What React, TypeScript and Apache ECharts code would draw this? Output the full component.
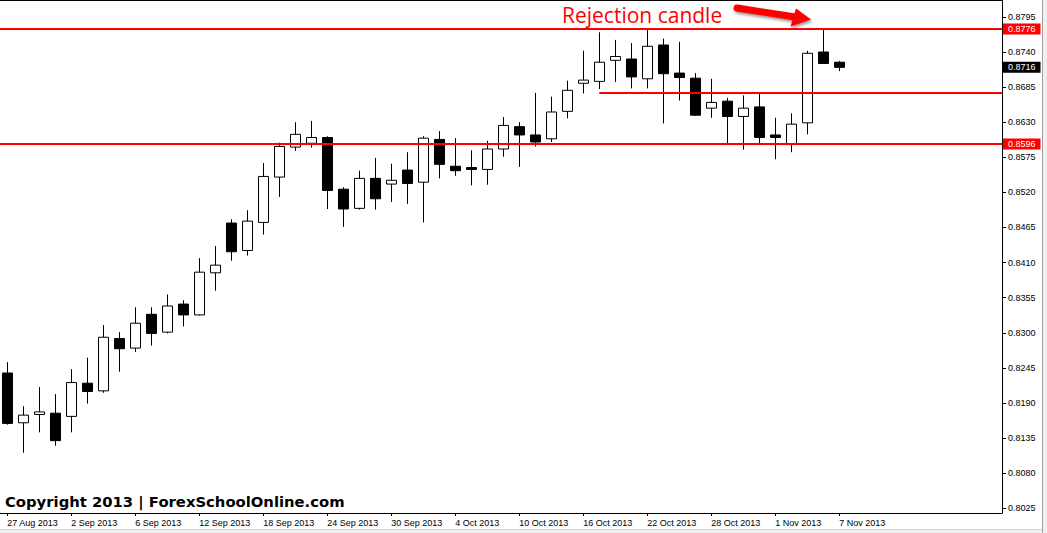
import React, { useEffect, useRef } from "react";
import * as echarts from "echarts";

// Daily candles (weekdays) 27 Aug 2013 – 7 Nov 2013
const dates = [
  "27 Aug 2013", "28 Aug 2013", "29 Aug 2013", "30 Aug 2013",
  "2 Sep 2013", "3 Sep 2013", "4 Sep 2013", "5 Sep 2013",
  "6 Sep 2013", "9 Sep 2013", "10 Sep 2013", "11 Sep 2013",
  "12 Sep 2013", "13 Sep 2013", "16 Sep 2013", "17 Sep 2013",
  "18 Sep 2013", "19 Sep 2013", "20 Sep 2013", "23 Sep 2013",
  "24 Sep 2013", "25 Sep 2013", "26 Sep 2013", "27 Sep 2013",
  "30 Sep 2013", "1 Oct 2013", "2 Oct 2013", "3 Oct 2013",
  "4 Oct 2013", "7 Oct 2013", "8 Oct 2013", "9 Oct 2013",
  "10 Oct 2013", "11 Oct 2013", "14 Oct 2013", "15 Oct 2013",
  "16 Oct 2013", "17 Oct 2013", "18 Oct 2013", "21 Oct 2013",
  "22 Oct 2013", "23 Oct 2013", "24 Oct 2013", "25 Oct 2013",
  "28 Oct 2013", "29 Oct 2013", "30 Oct 2013", "31 Oct 2013",
  "1 Nov 2013", "4 Nov 2013", "5 Nov 2013", "6 Nov 2013",
  "7 Nov 2013",
];

const opens = [
  0.8237, 0.8159, 0.8172, 0.8174, 0.8169, 0.8221, 0.8209, 0.8291,
  0.8276, 0.8329, 0.8301, 0.8345, 0.8328, 0.8394, 0.8472, 0.8429,
  0.8473, 0.8544, 0.8591, 0.8597, 0.8606, 0.8525, 0.8495, 0.8542,
  0.8533, 0.8555, 0.8536, 0.8603, 0.8561, 0.8559, 0.8556, 0.8588,
  0.8623, 0.8610, 0.8604, 0.8647, 0.8691, 0.8694, 0.8727, 0.8729,
  0.8698, 0.8751, 0.8707, 0.8699, 0.8652, 0.8663, 0.8639, 0.8654,
  0.8610, 0.8595, 0.8629, 0.8740, 0.8724,
];
const closes = [
  0.8158, 0.8171, 0.8176, 0.8131, 0.8222, 0.8208, 0.8293, 0.8275,
  0.8315, 0.8299, 0.8342, 0.8328, 0.8395, 0.8406, 0.8427, 0.8475,
  0.8545, 0.8592, 0.8611, 0.8606, 0.8523, 0.8494, 0.8542, 0.8510,
  0.8539, 0.8534, 0.8605, 0.8564, 0.8554, 0.8556, 0.8588, 0.8625,
  0.8610, 0.8599, 0.8646, 0.8680, 0.8696, 0.8724, 0.8733, 0.8701,
  0.8749, 0.8706, 0.8700, 0.8641, 0.8661, 0.8639, 0.8652, 0.8606,
  0.8606, 0.8627, 0.8738, 0.8722, 0.8716,
];
const lows = [
  0.8156, 0.8112, 0.8144, 0.8123, 0.8144, 0.8189, 0.8206, 0.8239,
  0.8270, 0.8280, 0.8299, 0.8310, 0.8327, 0.8366, 0.8413, 0.8421,
  0.8454, 0.8513, 0.8585, 0.8590, 0.8494, 0.8466, 0.8493, 0.8493,
  0.8505, 0.8502, 0.8473, 0.8542, 0.8546, 0.8531, 0.8532, 0.8576,
  0.8560, 0.8592, 0.8599, 0.8636, 0.8675, 0.8682, 0.8693, 0.8683,
  0.8683, 0.8628, 0.8664, 0.8640, 0.8637, 0.8595, 0.8587, 0.8595,
  0.8572, 0.8583, 0.8611, 0.8722, 0.8710,
];
const highs = [
  0.8254, 0.8185, 0.8215, 0.8204, 0.8243, 0.8261, 0.8312, 0.8301,
  0.8340, 0.8340, 0.8360, 0.8351, 0.8417, 0.8436, 0.8478, 0.8492,
  0.8566, 0.8598, 0.8630, 0.8632, 0.8608, 0.8528, 0.8554, 0.8574,
  0.8565, 0.8583, 0.8608, 0.8616, 0.8605, 0.8586, 0.8601, 0.8638,
  0.8630, 0.8676, 0.8670, 0.8695, 0.8742, 0.8771, 0.8759, 0.8754,
  0.8775, 0.8761, 0.8756, 0.8707, 0.8698, 0.8668, 0.8672, 0.8675,
  0.8637, 0.8644, 0.8742, 0.8776, 0.8726,
];

const dateTickIndex = [0, 4, 8, 12, 16, 20, 24, 28, 32, 36, 40, 44, 48, 52];
const priceTicks = [
  0.8025, 0.808, 0.8135, 0.819, 0.8245, 0.83, 0.8355, 0.841, 0.8465,
  0.852, 0.8575, 0.863, 0.8685, 0.874, 0.8795,
];

const resistanceLevel = 0.8776;
const supportLevel = 0.8596;
const midLevel = 0.8676;
const midLevelStartIndex = 37;
const currentPrice = 0.8716;

const annotationText = "Rejection candle";
const copyrightText = "Copyright 2013 | ForexSchoolOnline.com";

export default function App() {
  const ref = useRef<HTMLDivElement>(null);

  useEffect(() => {
    if (!ref.current) return;
    const chart = echarts.init(ref.current, null, { renderer: "svg" });

    const candleData = dates.map((_, i) => [i, opens[i], closes[i], lows[i], highs[i]]);
    const xMin = -0.456;
    const xMax = 62.17;
    const yMin = 0.80176;
    const yMax = 0.88215;

    const axisFont = "Liberation Sans";
    const boxLabel = (bg: string) => ({
      show: true,
      position: "end",
      distance: 1,
      formatter: (p: any) => Number(p.value).toFixed(4),
      color: "#ffffff",
      backgroundColor: bg,
      padding: [1, 5, 1, 5],
      fontSize: 9,
      lineHeight: 9,
      fontFamily: axisFont,
    });

    chart.setOption({
      animation: false,
      backgroundColor: "#ffffff",
      grid: { left: 0, top: 0, width: 1002, height: 513, containLabel: false },
      xAxis: [
        {
          type: "value",
          min: xMin,
          max: xMax,
          position: "bottom",
          axisLine: { show: true, onZero: false, lineStyle: { color: "#000", width: 1 } },
          axisTick: {
            show: true,
            customValues: dateTickIndex,
            length: 3,
            lineStyle: { color: "#000", width: 1 },
          },
          axisLabel: {
            show: true,
            customValues: dateTickIndex,
            formatter: (v: number) => dates[Math.round(v)] ?? "",
            align: "left",
            margin: 5,
            fontSize: 9,
            fontFamily: axisFont,
            color: "#000",
          },
          splitLine: { show: false },
        },
        {
          type: "value",
          min: xMin,
          max: xMax,
          position: "top",
          axisLine: { show: true, onZero: false, lineStyle: { color: "#000", width: 1 } },
          axisTick: { show: false },
          axisLabel: { show: false },
          splitLine: { show: false },
        },
      ],
      yAxis: {
        type: "value",
        position: "right",
        min: yMin,
        max: yMax,
        axisLine: { show: true, onZero: false, lineStyle: { color: "#000", width: 1 } },
        axisTick: {
          show: true,
          customValues: priceTicks,
          length: 4,
          lineStyle: { color: "#000", width: 1 },
        },
        axisLabel: {
          show: true,
          customValues: priceTicks,
          formatter: (v: number) => v.toFixed(4),
          margin: 6,
          fontSize: 9,
          fontFamily: axisFont,
          color: "#000",
        },
        splitLine: { show: false },
      },
      series: [
        {
          type: "candlestick",
          xAxisIndex: 0,
          yAxisIndex: 0,
          data: candleData,
          encode: { x: 0, y: [1, 2, 3, 4] },
          barWidth: 10,
          itemStyle: {
            color: "#ffffff",
            color0: "#000000",
            borderColor: "#000000",
            borderColor0: "#000000",
            borderWidth: 1,
          },
          markLine: {
            silent: true,
            symbol: ["none", "none"],
            precision: 4,
            animation: false,
            data: [
              {
                yAxis: resistanceLevel,
                lineStyle: { color: "#ff0000", width: 2, type: "solid" },
                label: boxLabel("#ff0000"),
              },
              {
                yAxis: supportLevel,
                lineStyle: { color: "#ff0000", width: 2, type: "solid" },
                label: boxLabel("#ff0000"),
              },
              [
                {
                  coord: [midLevelStartIndex, midLevel],
                  lineStyle: { color: "#ff0000", width: 2, type: "solid" },
                  label: { show: false },
                },
                { coord: [xMax, midLevel] },
              ],
              {
                yAxis: currentPrice,
                lineStyle: { color: "rgba(0,0,0,0)", width: 1 },
                label: boxLabel("#000000"),
              },
            ],
          },
        },
      ],
      graphic: [
        {
          type: "rect",
          shape: { x: 1042, y: 0, width: 5, height: 533 },
          style: { fill: "#f0f0f0" },
          silent: true,
        },
        {
          type: "line",
          shape: { x1: 1042.5, y1: 0, x2: 1042.5, y2: 533 },
          style: { stroke: "#a0a0a0", lineWidth: 1 },
          silent: true,
        },
        {
          type: "rect",
          shape: { x: 0, y: 530, width: 1042, height: 3 },
          style: { fill: "#f0f0f0" },
          silent: true,
        },
        {
          type: "line",
          shape: { x1: 0, y1: 529.5, x2: 1042, y2: 529.5 },
          style: { stroke: "#d6d6d6", lineWidth: 1 },
          silent: true,
        },
        {
          type: "text",
          style: {
            text: annotationText,
            x: 562,
            y: 15,
            verticalAlign: "middle",
            fill: "#ff0000",
            font: '21px "Open Sans"',
          },
          silent: true,
        },
        {
          type: "line",
          shape: { x1: 737, y1: 8, x2: 795, y2: 17 },
          style: {
            stroke: "#ff0000",
            lineWidth: 7,
            lineCap: "round",
            shadowBlur: 3,
            shadowColor: "rgba(0,0,0,0.45)",
            shadowOffsetX: 1,
            shadowOffsetY: 2,
          },
          silent: true,
        },
        {
          type: "polygon",
          shape: { points: [[796, 8.5], [811, 19.5], [790.5, 26.5]] },
          style: {
            fill: "#ff0000",
            shadowBlur: 3,
            shadowColor: "rgba(0,0,0,0.45)",
            shadowOffsetX: 1,
            shadowOffsetY: 2,
          },
          silent: true,
        },
        {
          type: "text",
          style: {
            text: copyrightText,
            x: 5,
            y: 501,
            verticalAlign: "middle",
            fill: "#000",
            font: 'bold 14.8px "DejaVu Sans"',
          },
          silent: true,
        },
      ],
    });

    return () => chart.dispose();
  }, []);

  return (
    <div
      ref={ref}
      style={{ position: "fixed", left: 0, top: 0, width: 1047, height: 533, background: "#fff" }}
    />
  );
}
